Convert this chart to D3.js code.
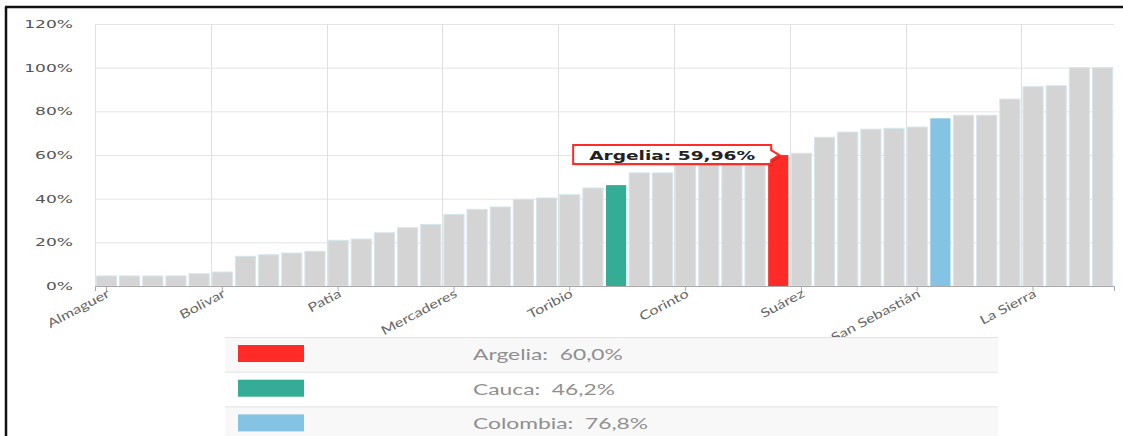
<!DOCTYPE html>
<html>
<head>
<meta charset="utf-8">
<script src="https://cdn.jsdelivr.net/npm/d3@7"></script>
<style>
    body { margin: 0; background: #fff; }
    .gridlines line { stroke: #e4e4e4; }
    .gridlines .domain { stroke: none; }
</style>
</head>
<body>
<svg id="chart" width="1123" height="436"></svg>
<script>
    // categories (sorted by value), only every 5th one is labelled on the axis
    const names = ["Almaguer", "Santa Rosa", "Piamonte", "Florencia", "Sucre",
        "Bolivar", "López de Micay", "Timbiquí", "Guapí", "La Vega",
        "Patia", "Balboa", "El Tambo", "Rosas", "Sotará",
        "Mercaderes", "Inzá", "Páez", "Cajibío", "Buenos Aires",
        "Toribio", "Morales", "Cauca", "Totoró", "Silvia",
        "Corinto", "Caldono", "Jambaló", "Timbío", "Argelia",
        "Suárez", "Puracé", "Piendamó", "Caloto", "Miranda",
        "San Sebastián", "Colombia", "Santander de Quilichao", "Padilla", "Guachené",
        "La Sierra", "Villa Rica", "Puerto Tejada", "Popayán"];
    const values = [4.6, 4.6, 4.6, 4.6, 5.6,
        6.4, 13.6, 14.3, 15.1, 15.9,
        20.9, 21.5, 24.4, 26.7, 28.2,
        32.8, 35.1, 36.2, 39.7, 40.3,
        41.8, 44.9, 46.2, 51.8, 51.8,
        55.3, 55.8, 56.4, 57.5, 59.96,
        60.8, 68.1, 70.5, 71.8, 72.2,
        72.8, 76.8, 78.2, 78.2, 85.6,
        91.3, 91.7, 100, 100];
    const yTicks = [0, 20, 40, 60, 80, 100, 120];

    const legendNames = ["Argelia", "Cauca", "Colombia"];
    const legendValues = ["60,0%", "46,2%", "76,8%"];
    const legendColors = ["#ff2b26", "#35ac96", "#85c3e4"];
    const highlight = "Argelia";
    const tooltipText = "Argelia: 59,96%";

    const svg = d3.select("#chart");
    const margin = { top: 24, left: 95, right: 9, bottom: 150 };
    const width = +svg.attr("width");
    const height = +svg.attr("height");
    const plotBottom = height - margin.bottom;

    // the original screenshot is stretched sideways, so widen the text the same way
    function stretch(sel, k) {
        sel.each(function () {
            const w = this.getComputedTextLength();
            d3.select(this).attr("textLength", w * k).attr("lengthAdjust", "spacingAndGlyphs");
        });
    }

    // frame
    svg.append("line").attr("x1", 5).attr("x2", width).attr("y1", 7).attr("y2", 7)
        .attr("stroke", "#111").attr("stroke-width", 2.5);
    svg.append("line").attr("x1", 6).attr("x2", 6).attr("y1", 7).attr("y2", height)
        .attr("stroke", "#111").attr("stroke-width", 2.5);

    const x = d3.scaleBand().domain(names).range([margin.left, width - margin.right])
        .paddingInner(0.13).paddingOuter(0.06);
    const y = d3.scaleLinear().domain([0, 120]).range([plotBottom, margin.top]);

    // horizontal gridlines
    svg.append("g").attr("class", "gridlines")
        .attr("transform", `translate(${margin.left}, 0)`)
        .call(d3.axisLeft(y).tickValues(yTicks).tickSize(-(width - margin.right - margin.left)).tickFormat(""));

    // vertical gridlines at the category boundaries
    const labelled = names.filter((d, i) => i % 5 === 0);
    const half = x.step() * x.paddingInner() / 2;
    svg.append("g").selectAll("line").data(labelled).join("line")
        .attr("x1", d => Math.round(x(d) - half) + 0.5)
        .attr("x2", d => Math.round(x(d) - half) + 0.5)
        .attr("y1", margin.top).attr("y2", plotBottom)
        .attr("stroke", "#e0e0e0");

    // y labels
    const yLabels = svg.append("g").selectAll("text").data(yTicks).join("text")
        .attr("x", 73).attr("y", d => y(d) + 4)
        .attr("text-anchor", "end")
        .style("font-family", "DejaVu Sans").style("font-size", "11px")
        .attr("fill", "#555")
        .text(d => d + "%");
    stretch(yLabels, 1.55);

    // bars
    const colorOf = {};
    legendNames.forEach((n, i) => colorOf[n] = legendColors[i]);
    svg.append("g").selectAll("rect").data(names).join("rect")
        .attr("x", d => x(d))
        .attr("y", (d, i) => y(values[i]))
        .attr("width", x.bandwidth())
        .attr("height", (d, i) => plotBottom - y(values[i]))
        .attr("fill", d => colorOf[d] || "#d4d4d4")
        .attr("stroke", d => colorOf[d] ? "none" : "#d3e6ee")
        .attr("stroke-width", 1);

    // x axis
    const xAxis = svg.append("g").attr("transform", `translate(0, ${plotBottom})`)
        .call(d3.axisBottom(x).tickValues(labelled).tickSizeOuter(0).tickSize(5));
    xAxis.select(".domain").attr("stroke", "#a8a8a8");
    xAxis.selectAll(".tick line").attr("stroke", "#a8a8a8");
    const xLabels = xAxis.selectAll(".tick text")
        .attr("text-anchor", "end")
        .attr("transform", "translate(-3, -3) rotate(-28)")
        .attr("dy", "0.55em")
        .style("font-family", "Lato").style("font-size", "12.5px")
        .attr("fill", "#666");
    stretch(xLabels, 1.3);

    // tooltip on the highlighted bar
    const hi = names.indexOf(highlight);
    const bx = x(highlight), by = y(values[hi]);
    const tipL = bx - 195, tipR = bx + 3, tipT = by - 10, tipB = by + 9;
    const tip = svg.append("g");
    const tipPath = `M${tipL},${tipT} H${tipR} V${by - 5} L${bx + 11},${by} L${tipR},${by + 5} V${tipB} H${tipL} Z`;
    tip.append("path").attr("d", tipPath).attr("transform", "translate(2,2)")
        .attr("fill", "rgba(0,0,0,0.15)");
    tip.append("path").attr("d", tipPath).attr("fill", "#fff")
        .attr("stroke", "#ff2b26").attr("stroke-width", 2);
    tip.append("text").attr("x", tipL + 16).attr("y", by + 4.5)
        .attr("textLength", 166).attr("lengthAdjust", "spacingAndGlyphs")
        .style("font-family", "DejaVu Sans").style("font-weight", "bold").style("font-size", "13px")
        .attr("fill", "#222").text(tooltipText);

    // legend table
    const legX = 225, legW = 773, rowH = 34.7, legY = 337;
    const rows = svg.append("g").selectAll("g").data(legendNames).join("g")
        .attr("transform", (d, i) => `translate(${legX}, ${legY + i * rowH})`);
    rows.append("rect").attr("width", legW).attr("height", rowH)
        .attr("fill", (d, i) => i % 2 === 0 ? "#f8f8f8" : "#fff");
    rows.append("line").attr("x1", 0).attr("x2", legW).attr("y1", 0.5).attr("y2", 0.5)
        .attr("stroke", "#e2e2e2");
    rows.append("rect").attr("x", 13).attr("y", 8).attr("width", 66).attr("height", 17)
        .attr("fill", (d, i) => legendColors[i]);
    const legText = rows.append("text").attr("x", 248).attr("y", 23)
        .style("font-family", "Lato").style("font-size", "15px")
        .style("white-space", "pre")
        .attr("fill", "#8f8f8f")
        .text((d, i) => d + ":  " + legendValues[i]);
    stretch(legText, 1.52);
</script>
</body>
</html>
